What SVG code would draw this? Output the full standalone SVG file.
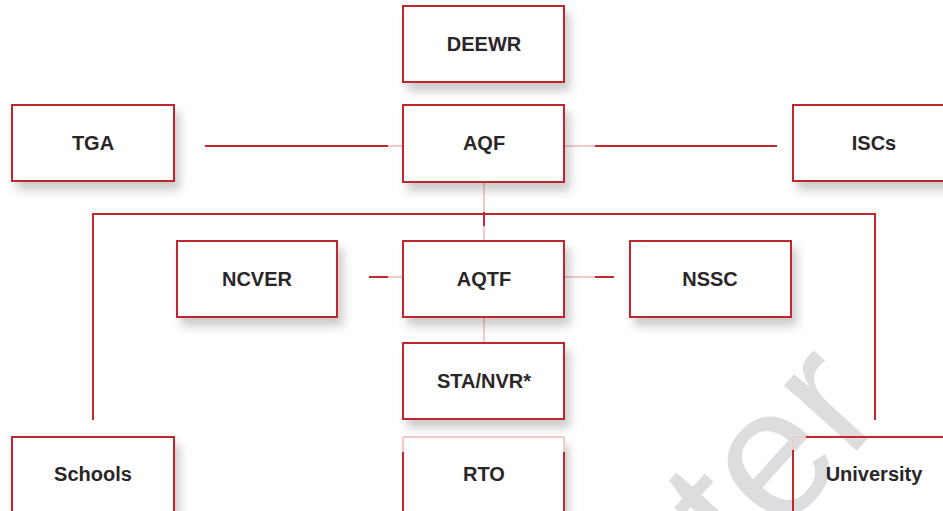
<svg xmlns="http://www.w3.org/2000/svg" width="943" height="511" viewBox="0 0 943 511">
  <defs>
    <filter id="sh" x="-10%" y="-10%" width="130%" height="140%">
      <feDropShadow dx="5" dy="8" stdDeviation="5" flood-color="#6b6b6b" flood-opacity="0.35"/>
    </filter>
    <style>
      .box { fill: #ffffff; stroke: #c1272d; stroke-width: 2; filter: url(#sh); }
      .open { fill: none; stroke: #c1272d; stroke-width: 2; }
      .lbl { font-family: "Liberation Sans", Arial, sans-serif; font-size: 20px; font-weight: bold; fill: #2a2627; text-anchor: middle; }
      .ln { stroke: #c1272d; stroke-width: 2; fill: none; }
      .fl { stroke: #f1c9c9; stroke-width: 2; fill: none; }
      .wm { font-family: "Liberation Sans", Arial, sans-serif; font-size: 185px; fill: #dcdddf; }
    </style>
  </defs>
  <rect width="943" height="511" fill="#ffffff"/>

  <text class="wm" transform="translate(745,575) rotate(-48)">ter</text>

  <g id="connectors">
    <line class="ln" x1="205" y1="146" x2="388" y2="146"/>
    <line class="fl" x1="388" y1="146" x2="403" y2="146"/>
    <line class="fl" x1="564" y1="146" x2="595" y2="146"/>
    <line class="ln" x1="595" y1="146" x2="777" y2="146"/>
    <line class="fl" x1="484" y1="182" x2="484" y2="212"/>
    <polyline class="ln" points="93,420 93,214 875,214 875,420"/>
    <line class="ln" x1="484" y1="212" x2="484" y2="226"/>
    <line class="fl" x1="484" y1="226" x2="484" y2="241"/>
    <line class="ln" x1="369" y1="277" x2="388" y2="277"/>
    <line class="fl" x1="388" y1="277" x2="403" y2="277"/>
    <line class="fl" x1="564" y1="277" x2="595" y2="277"/>
    <line class="ln" x1="595" y1="277" x2="614" y2="277"/>
    <line class="fl" x1="484" y1="317" x2="484" y2="343"/>
  </g>

  <g id="deewr"><rect class="box" x="403" y="6" width="161" height="76"/><text class="lbl" x="484" y="51">DEEWR</text></g>
  <g id="tga"><rect class="box" x="12" y="105" width="162" height="76"/><text class="lbl" x="93" y="150">TGA</text></g>
  <g id="aqf"><rect class="box" x="403" y="105" width="161" height="77"/><text class="lbl" x="484" y="150">AQF</text></g>
  <g id="iscs"><rect class="box" x="793" y="105" width="162" height="76"/><text class="lbl" x="874" y="150">ISCs</text></g>
  <g id="ncver"><rect class="box" x="177" y="241" width="160" height="76"/><text class="lbl" x="257" y="286">NCVER</text></g>
  <g id="aqtf"><rect class="box" x="403" y="241" width="161" height="76"/><text class="lbl" x="484" y="286">AQTF</text></g>
  <g id="nssc"><rect class="box" x="630" y="241" width="161" height="76"/><text class="lbl" x="710" y="286">NSSC</text></g>
  <g id="sta-nvr"><rect class="box" x="403" y="343" width="161" height="76"/><text class="lbl" x="484" y="388">STA/NVR*</text></g>
  <g id="schools"><rect class="box" x="12" y="437" width="162" height="90"/><text class="lbl" x="93" y="481">Schools</text></g>
  <g id="rto">
    <rect x="403" y="437" width="161" height="90" fill="#ffffff" filter="url(#sh)"/>
    <line class="fl" x1="403" y1="437" x2="564" y2="437"/>
    <polyline class="open" points="403,452 403,520"/>
    <polyline class="open" points="564,452 564,520"/>
    <polyline class="fl" points="403,437 403,452"/>
    <polyline class="fl" points="564,437 564,452"/>
    <text class="lbl" x="484" y="481">RTO</text>
  </g>
  <g id="university">
    <line class="fl" x1="793" y1="437" x2="806" y2="437"/>
    <line class="fl" x1="793" y1="437" x2="793" y2="450"/>
    <polyline class="open" points="806,437 955,437"/>
    <polyline class="open" points="793,450 793,520"/>
    <text class="lbl" x="874" y="481">University</text>
  </g>
</svg>
